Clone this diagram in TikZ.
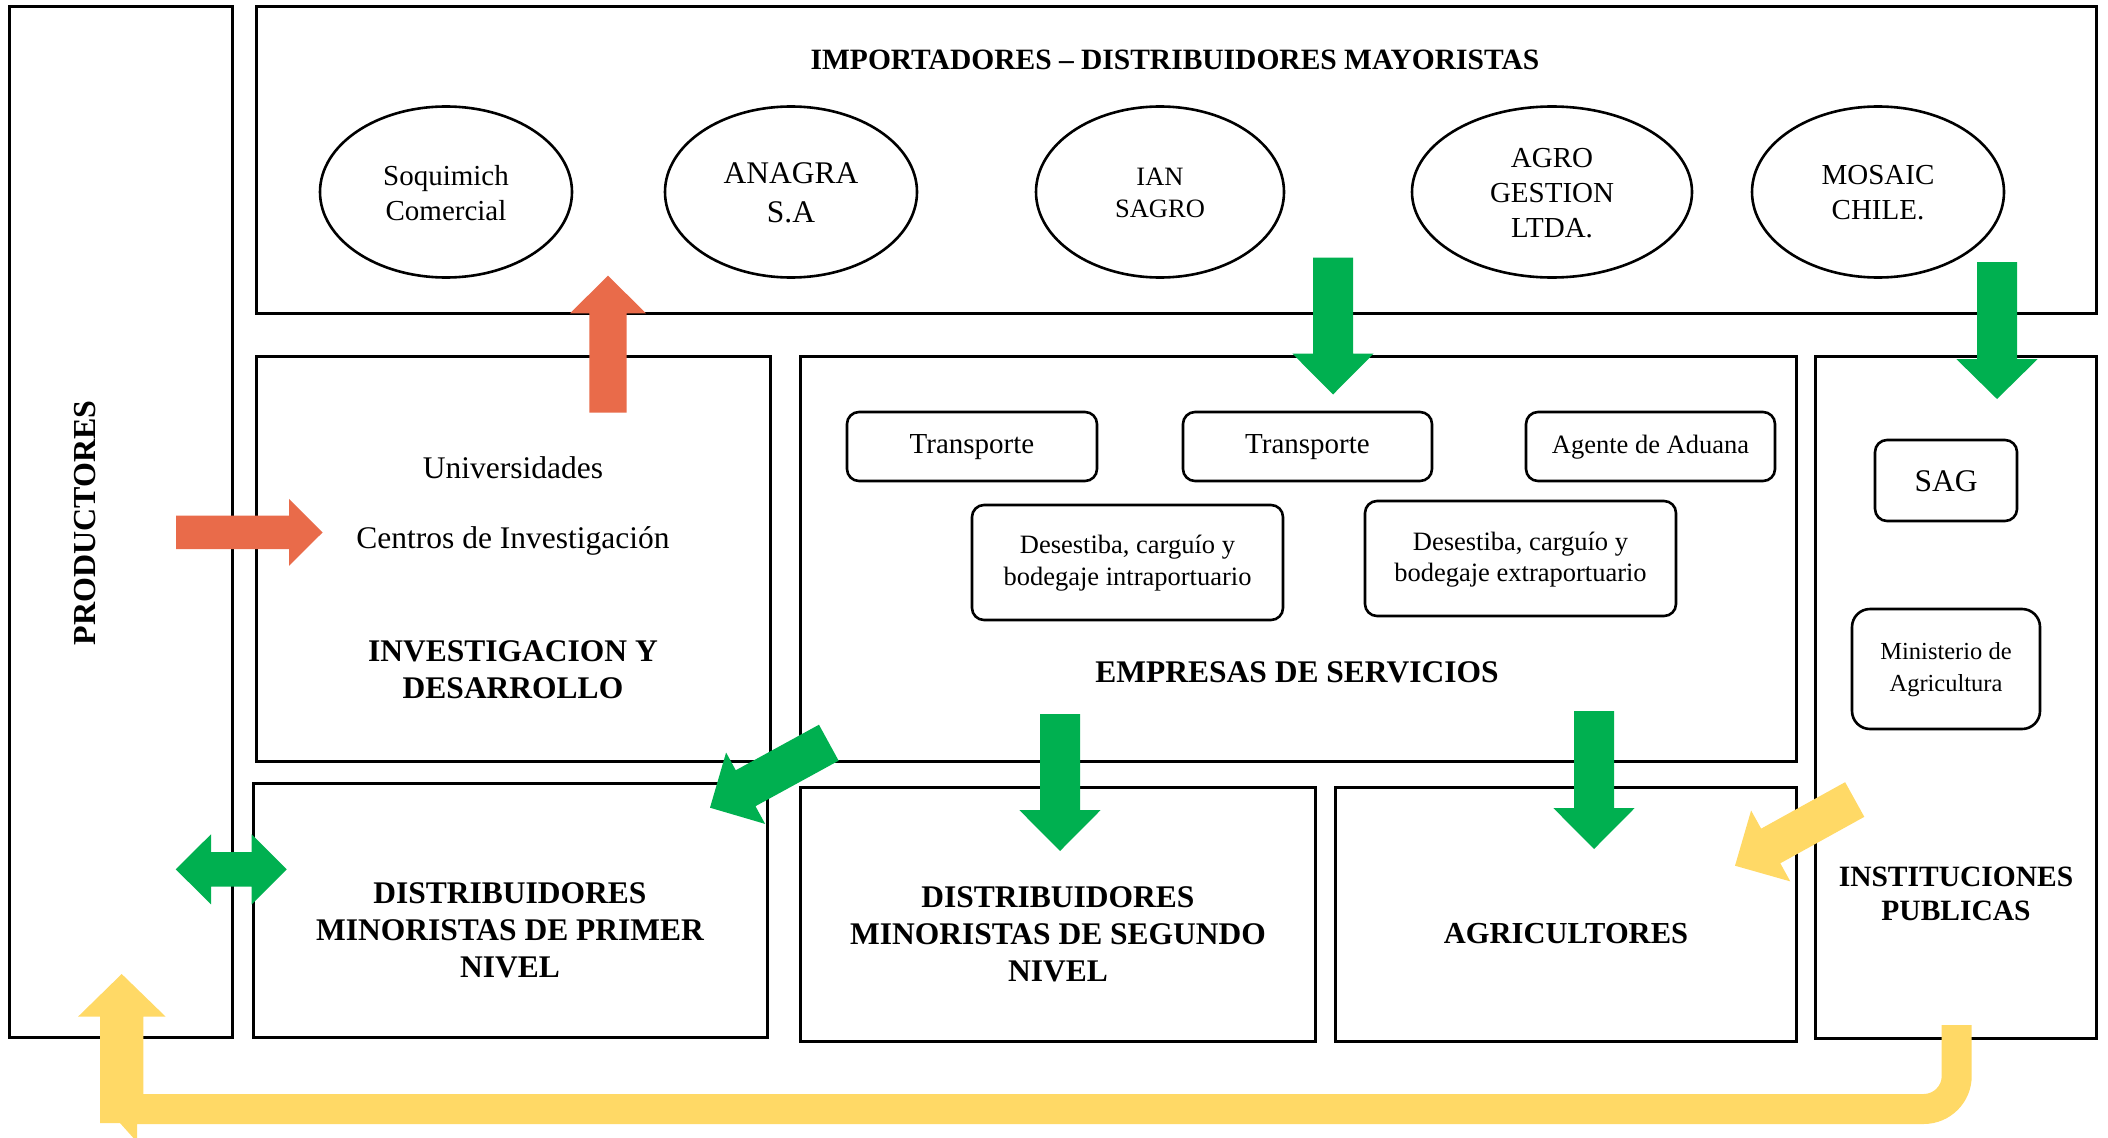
\documentclass[tikz,border=0pt]{standalone}
\usepackage{fontspec}
\setmainfont{Liberation Serif}
\usetikzlibrary{calc,shapes.geometric}
\definecolor{arrgreen}{RGB}{0,176,80}
\definecolor{arrorange}{RGB}{233,107,74}
\definecolor{arryellow}{RGB}{255,217,102}
\newcommand{\blockarrow}[6]{% color, tail, tip, half shaft, half head, head length
  \coordinate (ba-h) at ($(#3)!#6!(#2)$);
  \fill[#1] ($(#2)!#4!90:(#3)$) -- ($(ba-h)!#4!90:(#3)$) -- ($(ba-h)!#5!90:(#3)$) -- (#3)
    -- ($(ba-h)!#5!-90:(#3)$) -- ($(ba-h)!#4!-90:(#3)$) -- ($(#2)!#4!-90:(#3)$) -- cycle;
}
\tikzset{
  box/.style={draw, line width=3pt, inner sep=0pt, outer sep=0pt},
  rbox/.style={draw, line width=2.6pt, rounded corners=12pt, inner sep=0pt},
  oval/.style={draw, ellipse, line width=2.6pt, inner sep=0pt},
  txt/.style={align=center, yshift=-1pt},
  bold/.style={font=\fontsize{31.5}{37}\selectfont\bfseries, align=center},
}
\begin{document}
\begin{tikzpicture}[x=1pt,y=-1pt]
\useasboundingbox[fill=white] (0,0) rectangle (2108,1137);
% main boxes
\node[box, minimum width=223pt, minimum height=1030pt] (prod) at (120.5,522) {};
\node[box, minimum width=1840pt, minimum height=306pt] (top) at (1176,160) {};
\node[box, minimum width=514pt, minimum height=405pt] (inv) at (513,558.5) {};
\node[box, minimum width=996pt, minimum height=405pt] (emp) at (1298,558.5) {};
\node[box, minimum width=281pt, minimum height=682pt] (inst) at (1955.5,697) {};
\node[box, minimum width=514pt, minimum height=254pt] (d1) at (510,910) {};
\node[box, minimum width=515pt, minimum height=254pt] (d2) at (1057.5,914) {};
\node[box, minimum width=461pt, minimum height=254pt] (agr) at (1565.5,914) {};
% texts of main boxes
\node[bold, rotate=90, font=\fontsize{32}{37}\selectfont\bfseries] (prodtxt) at (85,523) {PRODUCTORES};
\node[bold, font=\fontsize{29.5}{35}\selectfont\bfseries] (toptxt) at (1175,60) {IMPORTADORES -- DISTRIBUIDORES MAYORISTAS};
\node[txt, font=\fontsize{31.5}{37}\selectfont] (univ) at (513,467) {Universidades};
\node[txt, font=\fontsize{31.5}{37}\selectfont] (cent) at (513,540) {Centros de Investigación};
\node[bold] (invtxt) at (513,670) {INVESTIGACION Y\\DESARROLLO};
\node[bold] (emptxt) at (1297,672) {EMPRESAS DE SERVICIOS};
\node[bold, font=\fontsize{29.5}{34}\selectfont\bfseries] (insttxt) at (1956,894) {INSTITUCIONES\\PUBLICAS};
\node[bold] (d1txt) at (510,930) {DISTRIBUIDORES\\MINORISTAS DE PRIMER\\NIVEL};
\node[bold] (d2txt) at (1058,934) {DISTRIBUIDORES\\MINORISTAS DE SEGUNDO\\NIVEL};
\node[bold, font=\fontsize{30.5}{37}\selectfont\bfseries] (agrtxt) at (1566,934) {AGRICULTORES};
% ellipses
\node[oval, minimum width=252pt, minimum height=171pt] (soq) at (446,192) {};
\node[oval, minimum width=252pt, minimum height=171pt] (ana) at (791,192) {};
\node[oval, minimum width=248pt, minimum height=171pt] (ian) at (1160,192) {};
\node[oval, minimum width=280pt, minimum height=171pt] (agro) at (1552,192) {};
\node[oval, minimum width=252pt, minimum height=171pt] (mos) at (1878,192) {};
\node[txt, font=\fontsize{29}{35}\selectfont] (soqt) at (soq.center) {Soquimich\\Comercial};
\node[txt, font=\fontsize{31.5}{39}\selectfont] (anat) at (ana.center) {ANAGRA\\S.A};
\node[txt, font=\fontsize{26.5}{32}\selectfont] (iant) at (ian.center) {IAN\\SAGRO};
\node[txt, font=\fontsize{29}{35}\selectfont] (agrot) at (agro.center) {AGRO\\GESTION\\LTDA.};
\node[txt, font=\fontsize{29}{35}\selectfont] (most) at (mos.center) {MOSAIC\\CHILE.};
% rounded boxes
\node[rbox, minimum width=250pt, minimum height=69pt] (t1) at (972,446.5) {};
\node[rbox, minimum width=249pt, minimum height=69pt] (t2) at (1307.5,446.5) {};
\node[rbox, minimum width=249pt, minimum height=69pt] (ag) at (1650.5,446.5) {};
\node[rbox, minimum width=311pt, minimum height=115pt] (ds1) at (1127.5,562.5) {};
\node[rbox, minimum width=311pt, minimum height=115pt] (ds2) at (1520.5,558.5) {};
\node[rbox, minimum width=142pt, minimum height=81pt] (sag) at (1946,480.5) {};
\node[rbox, rounded corners=18pt, minimum width=188pt, minimum height=120pt] (min) at (1946,669) {};
\node[txt, font=\fontsize{29}{34}\selectfont] (t1t) at (t1.center) {Transporte};
\node[txt, font=\fontsize{29}{34}\selectfont] (t2t) at (t2.center) {Transporte};
\node[txt, font=\fontsize{26.5}{32}\selectfont] (agt) at (ag.center) {Agente de Aduana};
\node[txt, font=\fontsize{26.5}{32}\selectfont] (ds1t) at (ds1.center) {Desestiba, carguío y\\bodegaje intraportuario};
\node[txt, font=\fontsize{26.5}{31}\selectfont] (ds2t) at (ds2.center) {Desestiba, carguío y\\bodegaje extraportuario};
\node[txt, font=\fontsize{31.5}{37}\selectfont] (sagt) at (sag.center) {SAG};
\node[txt, font=\fontsize{24.5}{32}\selectfont] (mint) at (min.center) {Ministerio de\\Agricultura};
% arrow end points
\coordinate (a1s) at (608,412.7);   \coordinate (a1e) at (608,275.7);
\coordinate (a2s) at (176,532.4);   \coordinate (a2e) at (322.6,532.4);
\coordinate (a3s) at (1333,257.5);  \coordinate (a3e) at (1333,394.5);
\coordinate (a4s) at (1997,262);    \coordinate (a4e) at (1997,399);
\coordinate (a5s) at (1060,714);    \coordinate (a5e) at (1060,851);
\coordinate (a6s) at (1594,711);    \coordinate (a6e) at (1594,849);
\coordinate (a7s) at (828.8,742.7); \coordinate (a7e) at (710,807.7);
\coordinate (a8s) at (1854.7,799.5);\coordinate (a8e) at (1735,865.7);
% block arrows
\blockarrow{arrorange}{a1s}{a1e}{18.7pt}{38pt}{37.6pt}
\blockarrow{arrorange}{a2s}{a2e}{16.7pt}{33.5pt}{33.6pt}
\blockarrow{arrgreen}{a3s}{a3e}{20pt}{40.7pt}{41pt}
\blockarrow{arrgreen}{a4s}{a4e}{20pt}{40.7pt}{40pt}
\blockarrow{arrgreen}{a5s}{a5e}{20pt}{40.7pt}{41pt}
\blockarrow{arrgreen}{a6s}{a6e}{20pt}{40.7pt}{41pt}
\blockarrow{arrgreen}{a7s}{a7e}{20.5pt}{40.7pt}{40.6pt}
\blockarrow{arryellow}{a8s}{a8e}{19.8pt}{40.5pt}{40.8pt}
% double arrow
\coordinate (dl) at (175.7,869.3); \coordinate (dr) at (286.7,869.3);
\fill[arrgreen] (dl) -- (211,834.3) -- (211,852.1) -- (251.7,852.1) -- (251.7,834.3) -- (dr)
  -- (251.7,904.3) -- (251.7,886.5) -- (211,886.5) -- (211,904.3) -- cycle;
% yellow return arrow
\coordinate (ys) at (1956.7,1025); \coordinate (ye) at (121.7,974);
\fill[arryellow] (ye) -- (165.7,1016.7) -- (143.3,1016.7) -- (143.3,1094) -- (1923.7,1094)
  .. controls (1933.6,1094) and (1941.7,1085.9) .. (1941.7,1076) -- (1941.7,1025)
  -- (1971.7,1025) -- (1971.7,1076) .. controls (1971.7,1102.5) and (1950.2,1124) .. (1923.7,1124)
  -- (137,1124) -- (137,1142) -- (120,1123) -- (100,1123) -- (100,1016.7) -- (78,1016.7) -- cycle;
\end{tikzpicture}
\end{document}
